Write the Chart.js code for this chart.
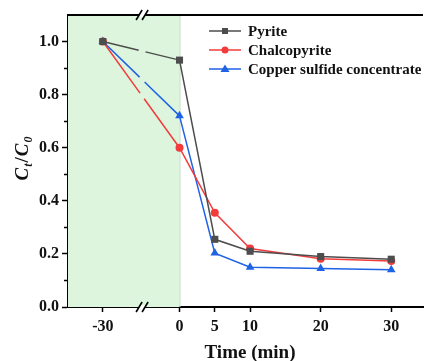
<!DOCTYPE html>
<html>
<head>
<meta charset="utf-8">
<script src="https://cdn.jsdelivr.net/npm/chart.js@4/dist/chart.umd.min.js"></script>
<style>
  html, body { margin: 0; padding: 0; background: #fff; overflow: hidden; }
  #wrap { width: 428px; height: 361px; }
</style>
</head>
<body>
<div id="wrap"><canvas id="c" width="428" height="361"></canvas></div>
<script>
// data
const times = [-30, 0, 5, 10, 20, 30]
const timeLabels = ["-30", "0", "5", "10", "20", "30"]
const pyrite = [1.0, 0.93, 0.255, 0.21, 0.19, 0.18]
const chalcopyrite = [1.0, 0.60, 0.355, 0.22, 0.182, 0.173]
const copperConc = [1.0, 0.72, 0.203, 0.15, 0.145, 0.14]
const yTicks = [0, 0.2, 0.4, 0.6, 0.8, 1.0]
const yMinorTicks = [0.1, 0.3, 0.5, 0.7, 0.9]

// broken axis: the pre-treatment stretch (-30..0) is compressed
const BREAK_SCALE = 10.86 / 30
const BREAK_AT = -5.3
const toAxis = t => (t < 0 ? t * BREAK_SCALE : t)

const serif = "'Liberation Serif', 'Times New Roman', serif"
const GRAY = "#4d4d4d"
const RED = "#f23c3c"
const BLUE = "#1f62e6"

const series = [
  { label: "Pyrite", values: pyrite, color: GRAY, style: "rect", radius: 5 },
  { label: "Chalcopyrite", values: chalcopyrite, color: RED, style: "circle", radius: 4 },
  { label: "Copper sulfide concentrate", values: copperConc, color: BLUE, style: "triangle", radius: 5 }
]

function breakDash(ctx) {
  if (ctx.p0DataIndex !== 0) return undefined
  const bx = ctx.chart.scales.x.getPixelForValue(BREAK_AT)
  const { p0, p1 } = ctx
  const len = Math.hypot(p1.x - p0.x, p1.y - p0.y)
  const d = len * (bx - p0.x) / (p1.x - p0.x)
  return [d - 3.5, 7, 2000, 0]
}

const decor = {
  id: "decor",
  beforeDatasetsDraw(chart) {
    const { ctx, chartArea: a, scales: { x } } = chart
    const x0 = x.getPixelForValue(0)
    ctx.save()
    ctx.fillStyle = "#dcf5dc"
    ctx.fillRect(a.left, a.top, x0 - a.left, a.bottom - a.top)
    ctx.strokeStyle = "#c9d6c9"
    ctx.lineWidth = 1
    ctx.beginPath()
    ctx.moveTo(x0 + 0.5, a.top)
    ctx.lineTo(x0 + 0.5, a.bottom)
    ctx.stroke()
    ctx.restore()
  },
  afterDraw(chart) {
    const { ctx, chartArea: a, scales: { x, y } } = chart
    ctx.save()
    // top frame line
    ctx.strokeStyle = "#000"
    ctx.lineWidth = 2
    ctx.beginPath()
    ctx.moveTo(a.left - 1, a.top)
    ctx.lineTo(a.right, a.top)
    ctx.stroke()

    // minor y ticks
    ctx.lineWidth = 1.5
    yMinorTicks.forEach(v => {
      const py = Math.round(y.getPixelForValue(v)) + 0.5
      ctx.beginPath()
      ctx.moveTo(a.left - 4, py)
      ctx.lineTo(a.left, py)
      ctx.stroke()
    })

    // axis break marks
    const bx = x.getPixelForValue(BREAK_AT)
    ;[a.top, a.bottom].forEach(py => {
      ctx.fillStyle = "#fff"
      ctx.fillRect(bx - 3, py - 2, 6, 4)
      ctx.strokeStyle = "#000"
      ctx.lineWidth = 1.6
      ;[-3, 3].forEach(dx => {
        ctx.beginPath()
        ctx.moveTo(bx + dx - 3, py + 5)
        ctx.lineTo(bx + dx + 3, py - 5)
        ctx.stroke()
      })
    })

    // legend
    ctx.font = "bold 15px " + serif
    ctx.textBaseline = "middle"
    series.forEach((s, i) => {
      const ly = 31 + i * 19
      ctx.strokeStyle = s.color
      ctx.lineWidth = 1.5
      ctx.beginPath()
      ctx.moveTo(209, ly)
      ctx.lineTo(241, ly)
      ctx.stroke()
      ctx.fillStyle = s.color
      ctx.beginPath()
      if (s.style === "rect") {
        ctx.rect(222, ly - 3, 6, 6)
      } else if (s.style === "circle") {
        ctx.arc(225, ly, 3.5, 0, Math.PI * 2)
      } else {
        ctx.moveTo(225, ly - 4.5)
        ctx.lineTo(229.5, ly + 3)
        ctx.lineTo(220.5, ly + 3)
        ctx.closePath()
      }
      ctx.fill()
      ctx.fillStyle = "#111"
      ctx.textAlign = "left"
      ctx.fillText(s.label, 248, ly + 1)
    })

    // axis titles
    ctx.fillStyle = "#111"
    ctx.font = "bold 19px " + serif
    ctx.textAlign = "center"
    ctx.textBaseline = "alphabetic"
    ctx.fillText("Time (min)", 250, 358)

    ctx.translate(28, 158)
    ctx.rotate(-Math.PI / 2)
    const parts = [
      ["C", "italic bold 19px", 0],
      ["t", "italic bold 12px", 4],
      ["/", "bold 19px", 0],
      ["C", "italic bold 19px", 0],
      ["0", "italic bold 12px", 4]
    ]
    let total = 0
    parts.forEach(p => { ctx.font = p[1] + " " + serif; total += ctx.measureText(p[0]).width + 1 })
    let cx = -total / 2
    ctx.textAlign = "left"
    parts.forEach(p => {
      ctx.font = p[1] + " " + serif
      ctx.fillText(p[0], cx, p[2])
      cx += ctx.measureText(p[0]).width + 1
    })
    ctx.restore()
  }
}

new Chart(document.getElementById("c"), {
  type: "line",
  data: {
    datasets: series.map(s => ({
      label: s.label,
      data: times.map((t, i) => ({ x: toAxis(t), y: s.values[i] })),
      borderColor: s.color,
      backgroundColor: s.color,
      borderWidth: 1.5,
      pointStyle: s.style,
      pointRadius: s.radius,
      pointBorderWidth: 0,
      tension: 0,
      segment: { borderDash: breakDash }
    }))
  },
  options: {
    responsive: false,
    animation: false,
    layout: { padding: { top: 15, right: 0, left: 0, bottom: 0 } },
    plugins: { legend: { display: false }, tooltip: { enabled: false } },
    scales: {
      x: {
        type: "linear",
        min: -15.8,
        max: 34.5,
        afterBuildTicks: axis => { axis.ticks = times.map(t => ({ value: toAxis(t) })) },
        afterFit: axis => { axis.height = 54 },
        ticks: {
          color: "#111",
          font: { family: serif, size: 16, weight: "bold" },
          padding: 5,
          maxRotation: 0,
          autoSkip: false,
          callback: (v, i) => timeLabels[i]
        },
        grid: { drawOnChartArea: false, tickLength: 5, tickWidth: 1.5, tickColor: "#000" },
        border: { color: "#000", width: 2 }
      },
      y: {
        min: 0,
        max: 1.1,
        afterBuildTicks: axis => { axis.ticks = yTicks.map(v => ({ value: v })) },
        afterFit: axis => { axis.width = 68 },
        ticks: {
          color: "#111",
          font: { family: serif, size: 16, weight: "bold" },
          padding: 3,
          callback: v => v.toFixed(1)
        },
        grid: { drawOnChartArea: false, tickLength: 6, tickWidth: 1.5, tickColor: "#000" },
        border: { color: "#000", width: 2 }
      }
    }
  },
  plugins: [decor]
})
</script>
</body>
</html>
